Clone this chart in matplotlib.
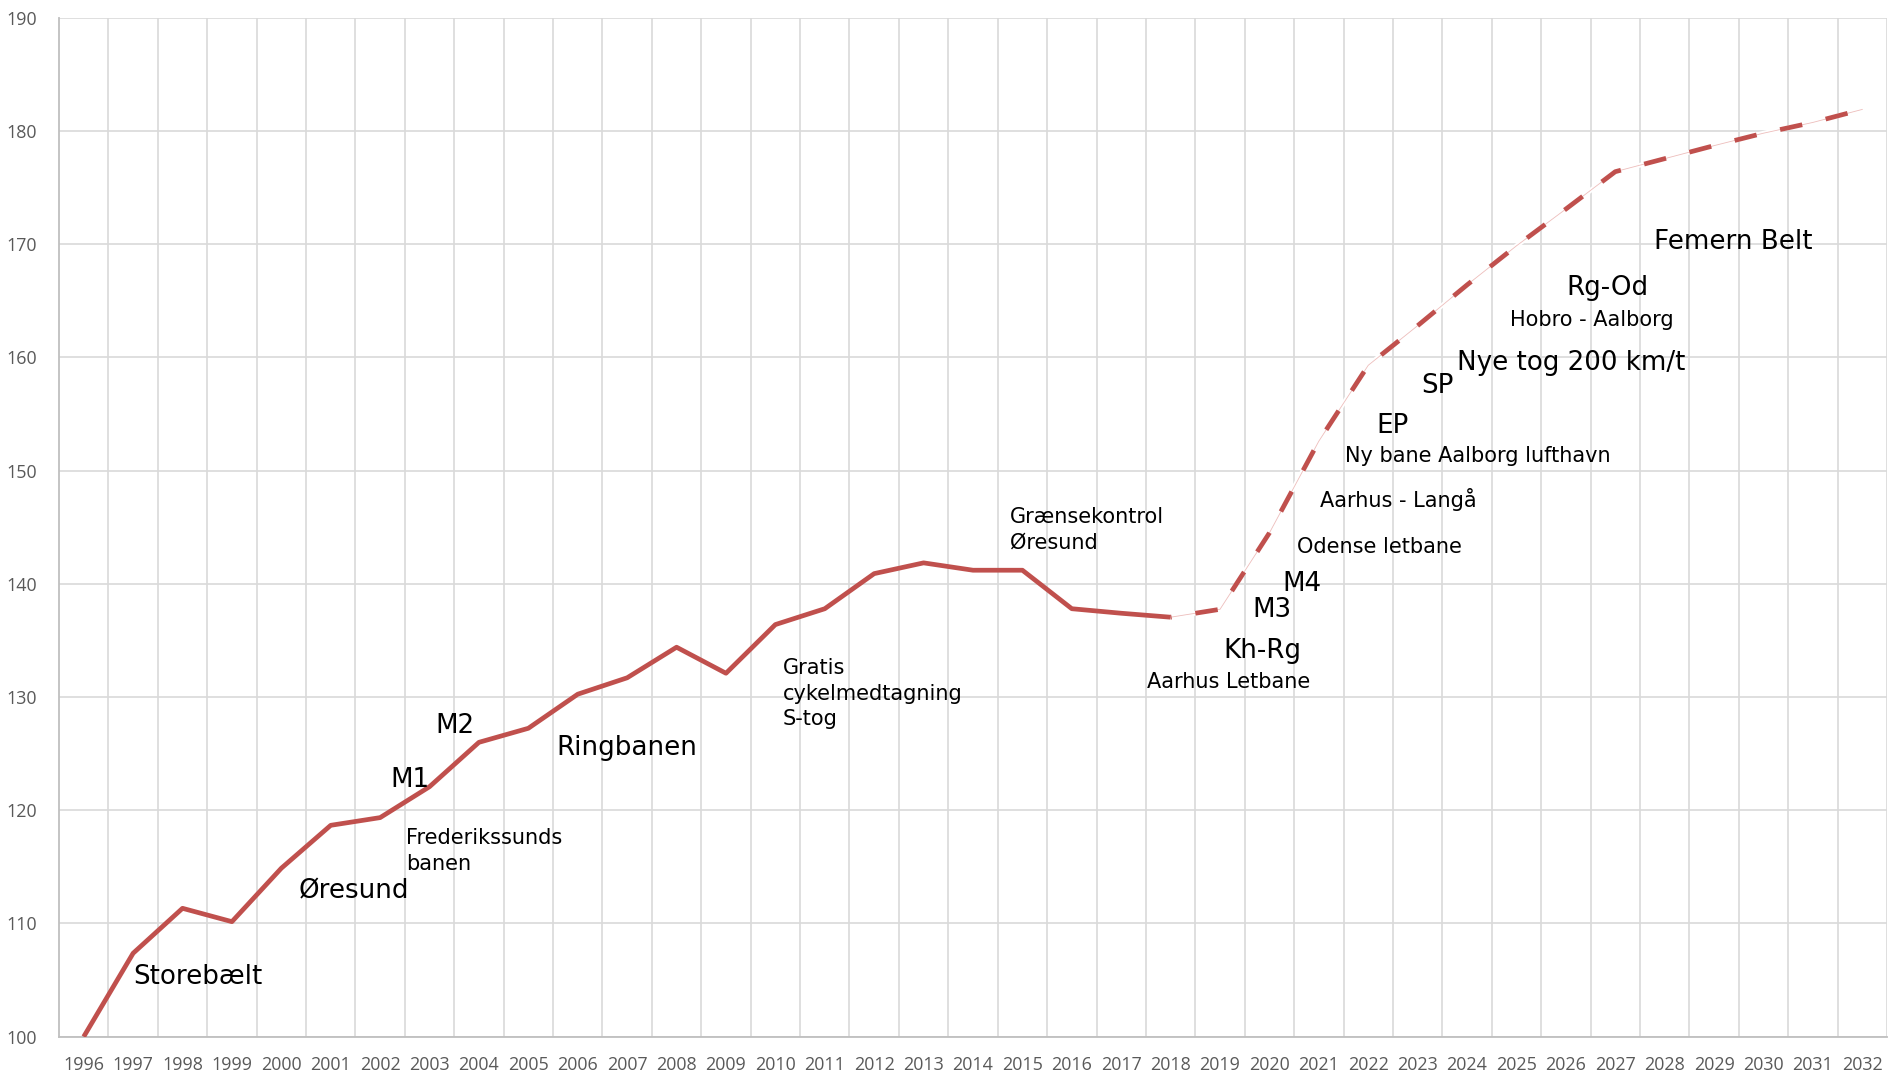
import numpy as np
import matplotlib
matplotlib.use("Agg")
import matplotlib.pyplot as plt

# ---- data -------------------------------------------------------------
years = list(range(1996, 2033))
tick_labels = [str(y) for y in years]
y_ticks = list(range(100, 191, 10))

actual_years = list(range(1996, 2019))
actual_values = [100.0, 107.37, 111.34, 110.16, 114.88, 118.67, 119.35, 122.08,
                 126.0, 127.24, 130.25, 131.7, 134.4, 132.1, 136.4, 137.8,
                 140.9, 141.85, 141.2, 141.2, 137.8, 137.4, 137.05]

forecast_years = list(range(2018, 2033))
forecast_values = [137.05, 137.75, 144.5, 152.6, 159.3, 162.8, 166.4, 169.85,
                   173.1, 176.4, 177.55, 178.7, 179.8, 180.75, 181.9]

# project labels (text, year anchor, value anchor of baseline)
big_labels = [
    ("Storebælt", 1997.0, 104.66),
    ("Øresund", 2000.36, 112.17),
    ("M1", 2002.21, 122.03),
    ("M2", 2003.11, 126.80),
    ("Ringbanen", 2005.575, 124.89),
    ("Kh-Rg", 2019.06, 133.43),
    ("M3", 2019.66, 137.05),
    ("M4", 2020.27, 139.40),
    ("EP", 2022.16, 153.36),
    ("SP", 2023.07, 156.84),
    ("Nye tog 200 km/t", 2023.80, 158.90),
    ("Rg-Od", 2026.02, 165.55),
    ("Femern Belt", 2027.79, 169.58),
]
small_labels = [
    (["Frederikssunds", "banen"], 2002.52, 117.02),
    (["Gratis", "cykelmedtagning", "S-tog"], 2010.156, 132.04),
    (["Grænsekontrol", "Øresund"], 2014.75, 145.41),
    (["Aarhus Letbane"], 2017.52, 130.78),
    (["Odense letbane"], 2020.56, 142.76),
    (["Aarhus - Langå"], 2021.03, 146.82),
    (["Ny bane Aalborg lufthavn"], 2021.53, 150.80),
    (["Hobro - Aalborg"], 2024.86, 162.78),
]

# ---- figure -----------------------------------------------------------
W, H = 1888, 1076
fig = plt.figure(figsize=(W / 100, H / 100), dpi=100)
fig.patch.set_facecolor("white")
ax = fig.add_axes([59 / W, (H - 1036.7) / H, (1887 - 59) / W, (1036.7 - 17.7) / H])

RED = "#C0504D"
GRID = "#D9D9D9"
LW = 3.4

ax.set_xlim(1995.5, 2032.5)
ax.set_ylim(100, 190)

ax.set_xticks(years)
ax.set_xticklabels(tick_labels)
ax.set_xticks(np.arange(1996.5, 2033, 1.0), minor=True)
ax.set_yticks(y_ticks)

ax.grid(False)
ax.grid(which="minor", axis="x", color=GRID, lw=1.2)
ax.grid(which="major", axis="y", color=GRID, lw=1.2)
ax.set_axisbelow(True)

for s in ["top", "right"]:
    ax.spines[s].set_visible(False)
for s in ["left", "bottom"]:
    ax.spines[s].set_color("#BFBFBF")
    ax.spines[s].set_linewidth(1.3)

ax.tick_params(axis="both", which="both", length=0, colors="#595959")
ax.tick_params(axis="x", pad=14)
ax.tick_params(axis="y", pad=16)
for lab in ax.get_xticklabels() + ax.get_yticklabels():
    lab.set_fontfamily(["Open Sans", "DejaVu Sans"])
    lab.set_fontsize(12.9)

# actual line
ax.plot(actual_years, actual_values, color=RED, lw=LW,
        solid_joinstyle="round", solid_capstyle="butt", zorder=4)

# forecast: white underlay, thin pale line, red dashes
ax.plot(forecast_years, forecast_values, color="white", lw=LW,
        solid_joinstyle="round", zorder=3)
ax.plot(forecast_years, forecast_values, color="#EDBDBB", lw=0.6, zorder=3.5)
ax.plot(forecast_years, forecast_values, color=RED, lw=LW,
        linestyle=(4.6, (4.8, 5.1)), dash_capstyle="butt",
        dash_joinstyle="round", zorder=4)

# annotations
BIG = 18.8
SMALL = 15.0
line_step = 25.6 / 11.32  # baseline spacing in data units
for txt, x, y in big_labels:
    ax.text(x, y, txt, fontsize=BIG, family="DejaVu Sans", color="black",
            ha="left", va="baseline", zorder=5)
for lines, x, y in small_labels:
    for k, txt in enumerate(lines):
        ax.text(x, y - k * line_step, txt, fontsize=SMALL, family="DejaVu Sans",
                color="black", ha="left", va="baseline", zorder=5)

fig.savefig("out.png", dpi=100, facecolor="white")
